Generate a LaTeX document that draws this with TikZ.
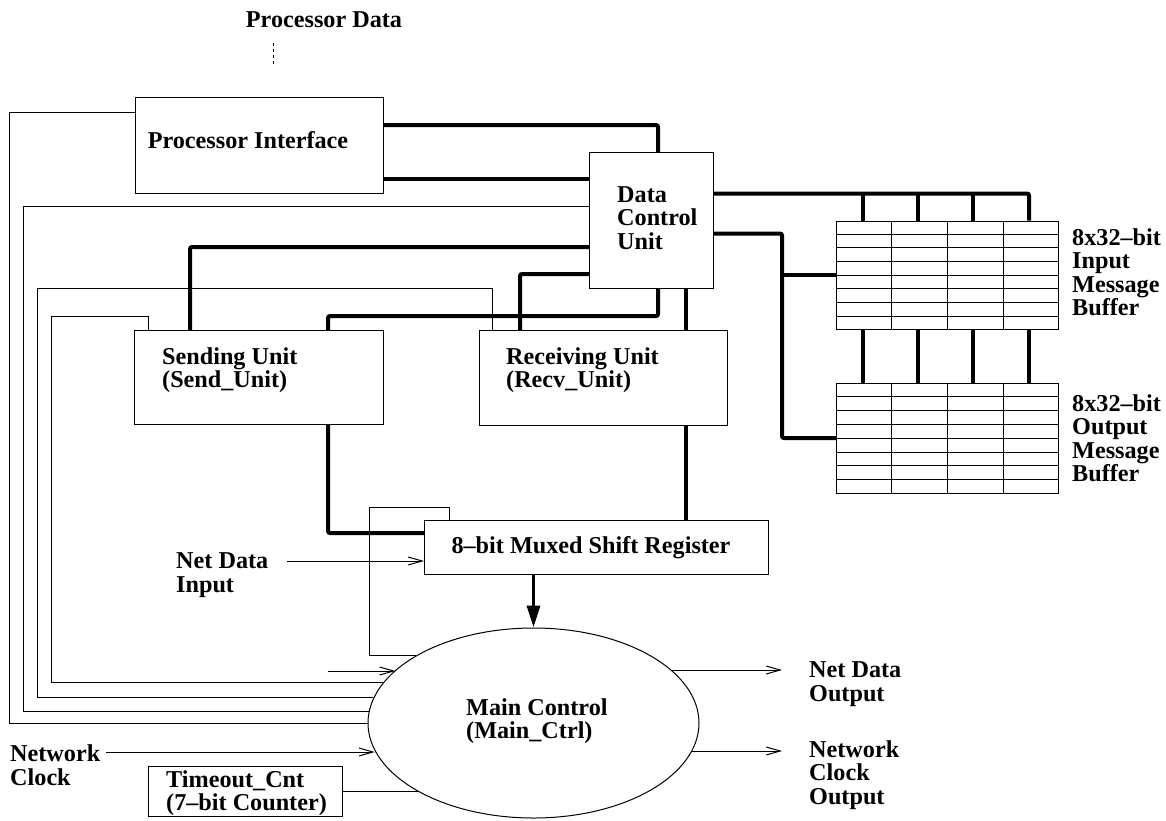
\documentclass[tikz,border=0pt]{standalone}
\usepackage{fontspec}
\setmainfont{Liberation Serif}
\usetikzlibrary{arrows.meta,shapes.geometric,calc}
\begin{document}
\begin{tikzpicture}[x=1pt,y=-1pt,
  wire/.style={line width=1pt},
  bus/.style={line width=4pt, rounded corners=2pt},
  gridline/.style={line width=0.8pt},
  unitbox/.style={draw, line width=1pt, rectangle, inner sep=0pt, anchor=north west},
  lbl/.style={font=\bfseries\fontsize{24.2pt}{23.5pt}\selectfont, inner sep=0pt, align=left},
  arr/.style={-{Straight Barb[length=14pt,width=8pt]}},
]
\useasboundingbox (0,0) rectangle (1166,820);

% ---------- blocks ----------
\node[lbl] (pdata) at (324,20) {Processor Data};
\node[unitbox, minimum width=248pt, minimum height=96pt] (pi) at (135,97) {};
\node[lbl] (pitxt) at (248,140) {Processor Interface};

\node[unitbox, minimum width=124pt, minimum height=136pt] (dcu) at (589,152) {};
\node[lbl, anchor=west] (dcutxt) at (617,218) {Data\\Control\\Unit};

\node[unitbox, minimum width=249pt, minimum height=94pt] (send) at (134,330) {};
\node[lbl, anchor=west] (sendtxt) at (162,370) {Sending Unit\\(Send\_Unit)};

\node[unitbox, minimum width=248pt, minimum height=95pt] (recv) at (479,330) {};
\node[lbl, anchor=west] (recvtxt) at (506,370) {Receiving Unit\\(Recv\_Unit)};

\node[unitbox, minimum width=344pt, minimum height=54pt] (sr) at (424,520) {};
\node[lbl] (srtxt) at (591,548) {8–bit Muxed Shift Register};

\node[draw, ellipse, line width=1pt, minimum width=331pt, minimum height=190pt, inner sep=0pt] (mc) at (533.5,723) {};
\node[lbl, anchor=west] (mctxt) at (466,721) {Main Control\\(Main\_Ctrl)};

\node[unitbox, minimum width=194pt, minimum height=50pt] (tmo) at (148,766) {};
\node[lbl, anchor=west] (tmotxt) at (166,793) {Timeout\_Cnt\\(7–bit Counter)};

% ---------- message buffers ----------
\node[unitbox, line width=0.8pt, minimum width=222pt, minimum height=108.5pt] (ibuf) at (836,220.5) {};
\node[unitbox, line width=0.8pt, minimum width=222pt, minimum height=109.5pt] (obuf) at (836,383) {};
\foreach \b in {ibuf,obuf} {
  \foreach \i in {1,...,7}
    \draw[gridline] ($(\b.north west)!\i/8!(\b.south west)$) -- ($(\b.north east)!\i/8!(\b.south east)$);
  \foreach \j in {1,2,3}
    \draw[gridline] ($(\b.north west)!\j/4!(\b.north east)$) -- ($(\b.south west)!\j/4!(\b.south east)$);
}
\node[lbl, anchor=west] (ibuftxt) at (1072,272) {8x32–bit\\Input\\Message\\Buffer};
\node[lbl, anchor=west] (obuftxt) at (1072,438) {8x32–bit\\Output\\Message\\Buffer};

% ---------- external signals ----------
\node[lbl, anchor=west] (ndi) at (176,575) {Net Data\\Input};
\node[lbl, anchor=west] (nclk) at (10,765) {Network\\Clock};
\node[lbl, anchor=west] (ndo) at (809,684) {Net Data\\Output};
\node[lbl, anchor=west] (nco) at (809,775) {Network\\Clock\\Output};

\coordinate (pdtop) at (273,43);
\coordinate (pdbot) at (273,65);
\draw[wire, dashed] (pdtop) -- (pdbot);

% ---------- data buses ----------
\draw[bus] (pi.east |- 0,125) -| (dcu.north -| 658,0);
\draw[bus] (pi.east |- 0,179) -- (dcu.west |- 0,179);
\draw[bus] (dcu.west |- 0,247) -| (send.north -| 190,0);
\draw[bus] (dcu.west |- 0,274) -| (recv.north -| 520,0);
\draw[bus] (dcu.south -| 658,0) |- (328,316) -- (send.north -| 328,0);
\draw[bus] (dcu.south -| 686,0) -- (recv.north -| 686,0);
\draw[bus] (recv.south -| 686,0) -- (sr.north -| 686,0);
\draw[bus] (send.south -| 328,0) |- (sr.west |- 0,533);
\draw[line width=3.5pt, -{Triangle[length=22pt,width=13pt]}] (sr.south -| mc.north) -- (mc.north);

\draw[bus] ([yshift=27pt]dcu.east) -| (ibuf.north -| 1029,0);
\foreach \x in {863,918,973}
  \draw[bus] (\x,193) -- (ibuf.north -| \x,0);
\foreach \x in {863,918,973,1029}
  \draw[bus] (ibuf.south -| \x,0) -- (obuf.north -| \x,0);
\draw[bus] ([yshift=-13pt]dcu.east) -| (782,438) -- (obuf.west |- 0,438);
\draw[bus] (782,275) -- (ibuf.west |- 0,275);

% ---------- control lines ----------
\draw[wire] (pi.west |- 0,112) -- (9,112) |- (mc.180);
\draw[wire] (dcu.west |- 0,206) -- (23,206) |- (mc.176);
\draw[wire] (recv.north -| 492,0) |- (37,288) |- (mc.171);
\draw[wire] (send.north -| 148,0) |- (51,316) |- (mc.165);
\draw[wire] (sr.north -| 449,0) |- (369,507) |- (mc.150);
\coordinate (aux) at (328,671);
\draw[wire, arr] (aux) -- (aux -| mc.159);
\coordinate (ndin) at (287,561);
\draw[wire, arr] (ndin) -- (sr.west |- ndin);
\coordinate (nclkin) at (106,752);
\draw[wire, arr] (nclkin) -- (nclkin -| mc.190);
\draw[wire] (tmo.east) -- (tmo.east -| mc.211);
\draw[wire, arr] (mc.21) -- (mc.21 -| 782,0);
\draw[wire, arr] (mc.350) -- (mc.350 -| 782,0);
\end{tikzpicture}
\end{document}
